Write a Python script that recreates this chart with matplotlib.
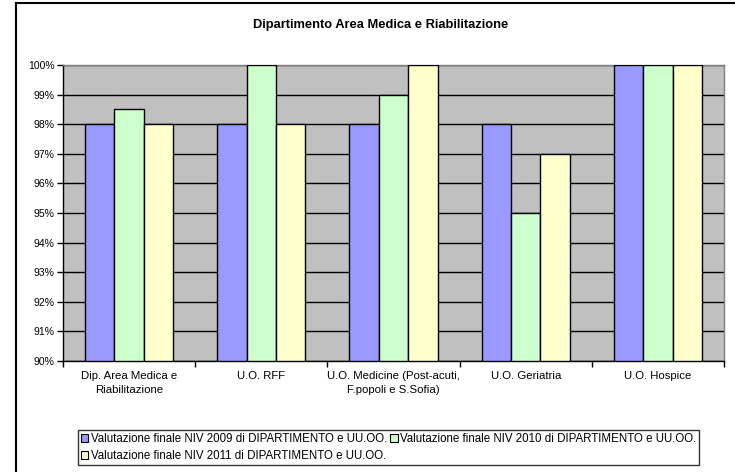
import matplotlib
matplotlib.use("Agg")
import matplotlib.pyplot as plt
import numpy as np
from matplotlib.lines import Line2D
from matplotlib.patches import Patch

plt.rcParams['font.family'] = ['Liberation Sans', 'DejaVu Sans']

categories = [
    "Dip. Area Medica e\nRiabilitazione",
    "U.O. RFF",
    "U.O. Medicine (Post-acuti,\nF.popoli e S.Sofia)",
    "U.O. Geriatria",
    "U.O. Hospice",
]
series_names = [
    "Valutazione finale NIV 2009 di DIPARTIMENTO e UU.OO.",
    "Valutazione finale NIV 2010 di DIPARTIMENTO e UU.OO.",
    "Valutazione finale NIV 2011 di DIPARTIMENTO e UU.OO.",
]
niv_2009 = [98.0, 98.0, 98.0, 98.0, 100.0]
niv_2010 = [98.5, 100.0, 99.0, 95.0, 100.0]
niv_2011 = [98.0, 98.0, 100.0, 97.0, 100.0]
y_ticks = list(range(90, 101))
y_tick_labels = [f"{v}%" for v in y_ticks]

colors = ["#9999FF", "#CCFFCC", "#FFFFCC"]

W, H = 735, 472
fig = plt.figure(figsize=(W / 100, H / 100), dpi=100)
ax = fig.add_axes([63 / W, 1 - 361 / H, (724 - 63) / W, (361 - 65) / H])
ax.set_facecolor("#C0C0C0")

x = np.arange(len(categories))
bw = 1 / 4.5  # gap width 150%
y0 = 90
for i, (vals, c) in enumerate(zip([niv_2009, niv_2010, niv_2011], colors)):
    ax.bar(x + (i - 1) * bw, np.array(vals) - y0, bottom=y0, width=bw,
           color=c, edgecolor="black", linewidth=1.0, zorder=3)

ax.set_xlim(-0.5, len(categories) - 0.5)
ax.set_ylim(90, 100)
ax.set_yticks(y_ticks)
ax.set_yticklabels(y_tick_labels, fontsize=7.5)
ax.yaxis.grid(True, color="black", linewidth=1.0, zorder=1)
ax.set_axisbelow(True)

ax.set_xticks(x)
ax.set_xticklabels(categories, fontsize=8.2, linespacing=1.55)
ax.tick_params(axis="x", length=0, pad=7)
ax.set_xticks(np.arange(len(categories) + 1) - 0.5, minor=True)
ax.tick_params(axis="x", which="minor", length=4, width=1, color="black", direction="out")
ax.tick_params(axis="y", length=4, width=1, color="black", direction="out", pad=2)

for s in ["top", "right"]:
    ax.spines[s].set_color("#808080")
    ax.spines[s].set_linewidth(1.0)
for s in ["left", "bottom"]:
    ax.spines[s].set_color("black")
    ax.spines[s].set_linewidth(1.0)

fig.text(381 / W, 1 - 25 / H, "Dipartimento Area Medica e Riabilitazione",
         ha="center", va="center", fontsize=9.3, fontweight="bold")

# chart area border (top and left edges)
fig.add_artist(Line2D([16 / W, 1.0], [1 - 3 / H, 1 - 3 / H], color="black", linewidth=1.5,
                      transform=fig.transFigure))
fig.add_artist(Line2D([16 / W, 16 / W], [1 - 3 / H, 0.0], color="black", linewidth=1.5,
                      transform=fig.transFigure))

handles = [Patch(facecolor=c, edgecolor="black", linewidth=0.8) for c in colors]
order = [0, 2, 1]
leg = fig.legend([handles[i] for i in order], [series_names[i] for i in order],
                 ncol=2, loc="upper left", bbox_to_anchor=(78 / W, 1 - 430 / H),
                 fontsize=8.3, frameon=True, fancybox=False, edgecolor="black",
                 handlelength=0.65, handleheight=0.65, handletextpad=0.2,
                 columnspacing=0.3, labelspacing=0.45, borderpad=0.25,
                 borderaxespad=0)
leg.get_frame().set_linewidth(1.0)

fig.savefig("out.png", dpi=100)
